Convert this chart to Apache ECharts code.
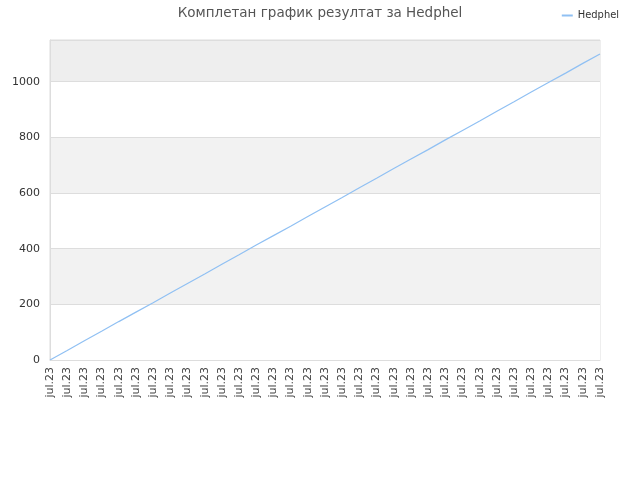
<!DOCTYPE html>
<html><head><meta charset="utf-8">
<script src="https://cdn.jsdelivr.net/npm/echarts@6/dist/echarts.min.js"></script>
<style>html,body{margin:0;padding:0;background:#fff}#c{width:640px;height:480px}</style>
</head><body><div id="c"></div>
<script>
const categories = ["jul.23","jul.23","jul.23","jul.23","jul.23","jul.23","jul.23","jul.23","jul.23","jul.23","jul.23","jul.23","jul.23","jul.23","jul.23","jul.23","jul.23","jul.23","jul.23","jul.23","jul.23","jul.23","jul.23","jul.23","jul.23","jul.23","jul.23","jul.23","jul.23","jul.23","jul.23","jul.23","jul.23"];
const hedphel = [0,34,69,103,138,172,206,241,275,309,344,378,413,447,481,516,550,584,619,653,688,722,756,791,825,859,894,928,963,997,1031,1066,1100];
const seriesName = "Hedphel";
const titleText = "Комплетан график резултат за Hedphel";

const chart = echarts.init(document.getElementById('c'));
chart.setOption({
  animation: false,
  textStyle: { fontFamily: 'DejaVu Sans' },
  title: { text: titleText, left: 'center', top: 1,
    textStyle: { fontSize: 13.5, fontWeight: 'normal', color: '#555', fontFamily: 'DejaVu Sans' } },
  legend: { right: 16, top: 5, itemWidth: 11, itemHeight: 2, itemGap: 10, icon: 'rect',
    textStyle: { fontSize: 11, color: '#333', fontFamily: 'DejaVu Sans Condensed' },
    data: [seriesName] },
  grid: { left: 50, right: 40, top: 40, bottom: 120, show: true, borderColor: '#dddddd', borderWidth: 1 },
  xAxis: { type: 'category', data: categories, boundaryGap: false,
    axisLine: { lineStyle: { color: '#dddddd' } }, axisTick: { show: false },
    axisLabel: { interval: 0, rotate: 90, fontSize: 11, color: '#444', margin: 7 },
    splitLine: { show: false } },
  yAxis: { type: 'value', min: 0, max: 1150, interval: 200,
    axisLine: { show: true, lineStyle: { color: '#dddddd' } }, axisTick: { show: false },
    axisLabel: { fontSize: 11, color: '#333', margin: 10, showMaxLabel: false, formatter: v => String(v) },
    splitLine: { lineStyle: { color: '#dddddd' } },
    splitArea: { show: true, areaStyle: { color: ['#ffffff','#f2f2f2','#ffffff','#f2f2f2','#ffffff','#eeeeee'] } } },
  series: [{ name: seriesName, type: 'line', data: hedphel, showSymbol: false, symbol: 'none',
    lineStyle: { width: 1.2, color: '#90c0f3' }, itemStyle: { color: '#90c0f3' } }]
});
</script></body></html>
